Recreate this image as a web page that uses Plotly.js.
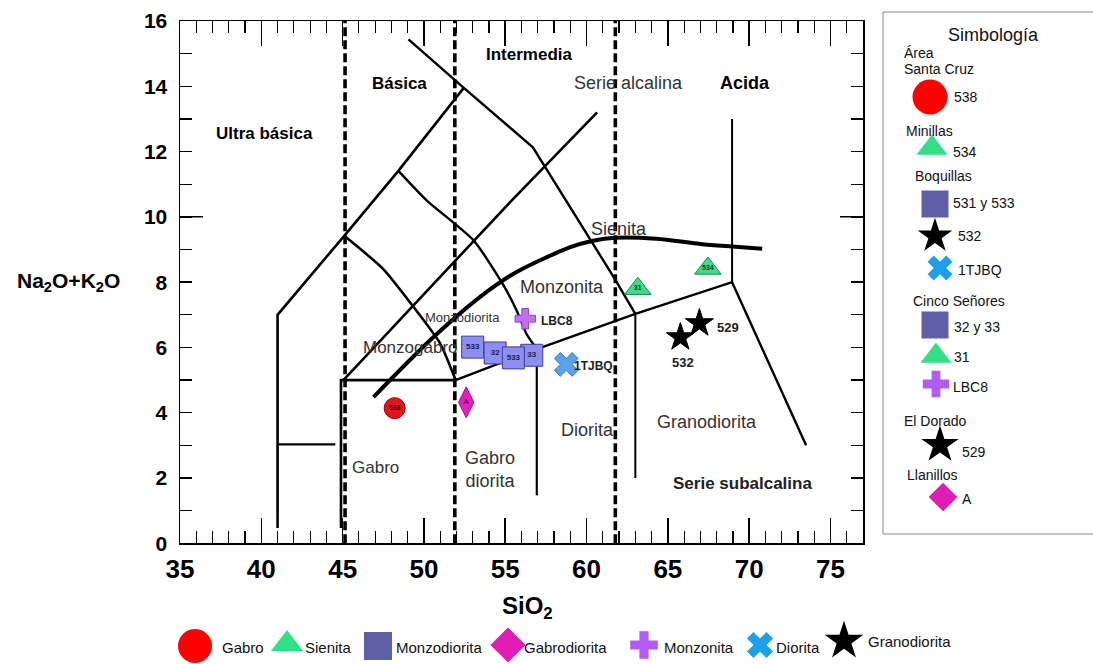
<!DOCTYPE html>
<html><head><meta charset="utf-8">
<script src="https://cdn.plot.ly/plotly-3.0.1.min.js"></script>
<style>html,body{margin:0;padding:0;background:#fff}#chart{width:1093px;height:664px}</style>
</head><body><div id="chart"></div>
<script>
// ---------------- DATA (SiO2 vs Na2O+K2O) ----------------
const gabroSi = [48.2],  gabroAlk = [4.14],  gabroLbl = ['538'];
const sienitaSi = [63.15, 67.46], sienitaAlk = [7.8, 8.42], sienitaLbl = ['31', '534'];
const monzodioritaSi = [53.0, 54.38, 56.63, 55.5], monzodioritaAlk = [6.01, 5.83, 5.76, 5.68], monzodioritaLbl = ['533', '32', '33', '533'];
const gabrodioritaSi = [52.6], gabrodioritaAlk = [4.32], gabrodioritaLbl = ['A'];
const monzonitaSi = [56.23], monzonitaAlk = [6.88], monzonitaLbl = ['LBC8'];
const dioritaSi = [58.75], dioritaAlk = [5.48], dioritaLbl = ['1TJBQ'];
const granodioritaSi = [65.77, 66.94], granodioritaAlk = [6.31, 6.74], granodioritaLbl = ['532', '529'];

const xTicks = [35, 40, 45, 50, 55, 60, 65, 70, 75];
const yTicks = [0, 2, 4, 6, 8, 10, 12, 14, 16];

// TAS field boundaries
const bOuterX = [41.0, 41.0, 45.1, 48.43, 52.45], bOuterY = [0.47, 7.0, 9.42, 11.41, 13.95];
const bTopX = [49.05, 52.45, 56.7, 61.8, 63.0], bTopY = [15.44, 13.95, 12.13, 8.05, 7.03];
const bInnerX = [45.1, 47.5, 49.36, 51.0, 51.95], bInnerY = [9.42, 8.4, 7.24, 6.12, 5.0];
const bApexX = [48.43, 50.18, 53.05, 54.9, 55.7, 56.3, 56.94], bApexY = [11.41, 10.5, 9.28, 7.9, 7.13, 6.42, 5.95];
const bMgX = [45.05, 55.3, 60.65], bMgY = [5.0, 10.45, 13.2];
const bGabroX = [44.9, 44.9, 51.95], bGabroY = [0.47, 5.0, 5.0];
const bLeftX = [41.0, 44.55], bLeftY = [3.03, 3.03];
const bLowerX = [51.95, 56.94, 63.0, 68.95, 73.5], bLowerY = [5.0, 5.95, 7.03, 8.0, 3.0];
const bV57X = [56.94, 56.94], bV57Y = [5.95, 1.47];
const bV63X = [63.0, 63.0], bV63Y = [7.03, 2.0];
const bV69X = [68.95, 68.95], bV69Y = [8.0, 13.0];
const alkCurveX = [46.9, 50.38, 53.46, 55.7, 59.0, 60.4, 61.77, 64.3, 67.0, 68.95, 70.8];
const alkCurveY = [4.48, 6.22, 7.55, 8.31, 9.07, 9.27, 9.36, 9.33, 9.17, 9.09, 9.02];
const silicaLimits = [45.15, 51.9, 61.77];

const rockTypes = ['Gabro', 'Sienita', 'Monzodiorita', 'Gabrodiorita', 'Monzonita', 'Diorita', 'Granodiorita'];

// ---------------- LAYOUT HELPERS ----------------
const W = 1093, H = 664;
const pL = 180, pR = 863, pT = 21, pB = 543.3;
const X0 = 35, X1 = 77, Y0 = 0, Y1 = 16;
const px = v => v / W, py = v => 1 - v / H;

const traces = [];
function line(xs, ys, w, extra) {
  traces.push(Object.assign({type: 'scatter', mode: 'lines', x: xs, y: ys,
    line: {color: '#000', width: w}, hoverinfo: 'skip', showlegend: false}, extra || {}));
}
// dashed silica limits
silicaLimits.forEach(v => {
  line([v, v], [Y0, Y1], 3.6, {line: {color: '#000', width: 3.6, dash: '9px,4px'}});
});
line(bOuterX, bOuterY, 2.6);
line(bTopX, bTopY, 2.4);
line(bInnerX, bInnerY, 2.6, {line: {color: '#000', width: 2.6, shape: 'spline', smoothing: 0.6}});
line(bApexX, bApexY, 2.4, {line: {color: '#000', width: 2.4, shape: 'spline', smoothing: 0.6}});
line(bMgX, bMgY, 2.6);
line(bGabroX, bGabroY, 2.6);
line(bLeftX, bLeftY, 2.2);
line(bLowerX, bLowerY, 2.4);
line(bV57X, bV57Y, 2.2);
line(bV63X, bV63Y, 2.0);
line(bV69X, bV69Y, 2.0);
line(alkCurveX, alkCurveY, 4, {line: {color: '#000', width: 4, shape: 'spline', smoothing: 0.8}});

// sample markers
function pts(xs, ys, lbl, symbol, size, color, lineColor, tcolor, tsize) {
  traces.push({type: 'scatter', mode: 'markers+text', x: xs, y: ys, text: lbl,
    textposition: 'middle center', textfont: {family: 'Liberation Sans, Arial', size: tsize, color: tcolor, weight: 'bold'},
    marker: {symbol: symbol, size: size, color: color, line: {color: lineColor, width: 1}},
    hoverinfo: 'skip', showlegend: false, cliponaxis: false});
}
function ptsNoText(xs, ys, symbol, size, color, lineColor) {
  traces.push({type: 'scatter', mode: 'markers', x: xs, y: ys,
    marker: {symbol: symbol, size: size, color: color, line: {color: lineColor, width: 1}},
    hoverinfo: 'skip', showlegend: false, cliponaxis: false});
}
pts(gabroSi, gabroAlk, gabroLbl, 'circle', 21, '#e3141b', '#9a0000', '#5a0000', 7);
pts(gabrodioritaSi, gabrodioritaAlk, gabrodioritaLbl, 'diamond-tall', 22, '#e020c0', '#a01090', '#700060', 8);
pts(monzodioritaSi, monzodioritaAlk, monzodioritaLbl, 'square', 22, '#8d8ef0', '#3c3c9c', '#1c1c50', 8);
pts(sienitaSi, sienitaAlk, sienitaLbl, 'triangle-up', 23, '#3fdb8a', '#1a8a50', '#0d4a28', 7);
ptsNoText(monzonitaSi, monzonitaAlk, 'cross', 17, '#c070f2', '#9040c0');
ptsNoText(dioritaSi, dioritaAlk, 'x', 21, '#5aa3ea', '#3575c5');
ptsNoText(granodioritaSi, granodioritaAlk, 'star', 21, '#000', '#000');

// ---------------- LEGENDS (pixel-positioned on overlay axes) ----------------
const legColors = {Gabro: '#ff0000', Sienita: '#33e08a', Monzodiorita: '#5f5fa8', Gabrodiorita: '#e01cb4',
  Monzonita: '#b35cf5', Diorita: '#1ba1ea', Granodiorita: '#000000'};
const legSymbols = {Gabro: 'circle', Sienita: 'triangle-up', Monzodiorita: 'square', Gabrodiorita: 'diamond',
  Monzonita: 'cross', Diorita: 'x', Granodiorita: 'star'};
function legMark(x, y, type, size) {
  traces.push({type: 'scatter', mode: 'markers', x: [x], y: [y], xaxis: 'x2', yaxis: 'y2',
    marker: {symbol: legSymbols[type], size: size, color: legColors[type], line: {width: 0}},
    hoverinfo: 'skip', showlegend: false, cliponaxis: false});
}
// bottom legend: [marker x, marker y, size, text left]
const botPos = {Gabro: [195, 646, 34, 220], Sienita: [287, 644, 28, 303], Monzodiorita: [378, 646, 28, 394],
  Gabrodiorita: [508, 645, 27, 522], Monzonita: [644, 645, 23, 662], Diorita: [760, 645, 23, 774], Granodiorita: [844, 641, 29, 866]};
// right legend markers
const rightMarks = [[930, 97, 'Gabro', 35], [932, 148, 'Sienita', 27], [935, 204, 'Monzodiorita', 27],
  [935, 236, 'Granodiorita', 26], [940, 268, 'Diorita', 22], [935, 325, 'Monzodiorita', 27],
  [936, 356, 'Sienita', 27], [936, 384, 'Monzonita', 22], [940, 445, 'Granodiorita', 28], [943, 497, 'Gabrodiorita', 22]];
rightMarks.forEach(m => legMark(m[0], m[1], m[2], m[3]));
rockTypes.forEach(r => { const p = botPos[r]; legMark(p[0], p[1], r, p[2]); });

const ann = [];
const legFont = {family: 'Liberation Sans, Arial, sans-serif', size: 14, color: '#111'};
function ptext(t, x, y, font, xanchor) {
  ann.push({text: t, x: px(x), y: py(y), xref: 'paper', yref: 'paper', showarrow: false,
    xanchor: xanchor || 'left', yanchor: 'middle', font: font || legFont});
}
ptext('Simbología', 993, 35, {family: 'Liberation Sans, Arial, sans-serif', size: 18, color: '#111'}, 'center');
const rightTexts = [['Área', 902, 53], ['Santa Cruz', 902, 69], ['538', 952, 97], ['Minillas', 904, 131],
  ['534', 951, 152], ['Boquillas', 913, 176], ['531 y 533', 951, 203], ['532', 956, 236], ['1TJBQ', 956, 270],
  ['Cinco Señores', 911, 301], ['32 y 33', 952, 327], ['31', 952, 357], ['LBC8', 951, 387],
  ['El Dorado', 902, 421], ['529', 960, 452], ['Llanillos', 905, 475], ['A', 960, 499]];
rightTexts.forEach(t => ptext(t[0], t[1], t[2]));
const botFont = {family: 'Liberation Sans Narrow, Arial Narrow, Liberation Sans, Arial', size: 15, color: '#111'};
rockTypes.forEach(r => { const p = botPos[r]; ptext(r, p[3], r === 'Granodiorita' ? 641 : 647, botFont); });

// axis titles
ptext('SiO<sub>2</sub>', 527, 607, {family: 'Liberation Sans Narrow, Arial Narrow, Liberation Sans, Arial', size: 24, color: '#000', weight: 'bold'}, 'center');
ptext('Na<sub>2</sub>O+K<sub>2</sub>O', 68, 282, {family: 'Liberation Sans, Arial', size: 21, color: '#000', weight: 'bold'}, 'center');

// field labels
function dtext(t, x, y, size, bold, color, xanchor) {
  ann.push({text: t, x: x, y: y, xref: 'x', yref: 'y', showarrow: false, xanchor: xanchor || 'center', yanchor: 'middle',
    font: {family: 'Liberation Sans, Arial, sans-serif', size: size, color: color || (bold ? '#000' : '#333'), weight: bold ? 'bold' : 'normal'}});
}
dtext('Ultra básica', 40.17, 12.55, 17, true);
dtext('Básica', 48.48, 14.08, 17, true);
dtext('Intermedia', 56.48, 14.96, 17, true);
dtext('Serie alcalina', 62.57, 14.1, 18, false);
dtext('Acida', 69.77, 14.1, 18, true);
dtext('Sienita', 62.0, 9.64, 18, false);
dtext('Monzonita', 58.5, 7.84, 18, false);
dtext('Monzodiorita', 52.4, 6.92, 13, false);
dtext('Monzogabro', 49.2, 6.0, 17, false);
dtext('Gabro', 47.0, 2.33, 17, false);
dtext('Gabro<br>diorita', 52.42, 2.27, 18, false, '#333', 'left');
dtext('Diorita', 60.05, 3.47, 18, false);
dtext('Granodiorita', 67.43, 3.71, 18, false);
dtext('Serie subalcalina', 69.58, 1.84, 17, true, '#222');

// sample name labels next to markers
const sampFont = {family: 'Liberation Sans, Arial', size: 12, color: '#222', weight: 'bold'};
ann.push({text: monzonitaLbl[0], x: monzonitaSi[0], y: monzonitaAlk[0], xshift: 14, yshift: -2, xanchor: 'left', showarrow: false, font: sampFont});
ann.push({text: dioritaLbl[0], x: dioritaSi[0], y: dioritaAlk[0], xshift: 6, yshift: -2, xanchor: 'left', showarrow: false, font: sampFont});
ann.push({text: granodioritaLbl[1], x: granodioritaSi[1], y: granodioritaAlk[1], xshift: 16, yshift: -4, xanchor: 'left', showarrow: false, font: Object.assign({}, sampFont, {size: 13})});
ann.push({text: granodioritaLbl[0], x: granodioritaSi[0], y: granodioritaAlk[0], xshift: 3, yshift: -25, xanchor: 'center', showarrow: false, font: Object.assign({}, sampFont, {size: 13})});

const shapes = [
  {type: 'rect', xref: 'paper', yref: 'paper', x0: px(883), x1: px(1100), y0: py(534), y1: py(12), line: {color: '#888', width: 1}},
  {type: 'line', xref: 'x', yref: 'y', x0: X0, x1: X0 + 23 / 16.25, y0: 10, y1: 10, line: {color: '#000', width: 1.5}},
  {type: 'line', xref: 'x', yref: 'y', x0: X1, x1: X1 - 23 / 16.25, y0: 10, y1: 10, line: {color: '#000', width: 1.5}}
];

const layout = {
  width: W, height: H, margin: {l: 0, r: 0, t: 0, b: 0}, paper_bgcolor: '#fff', plot_bgcolor: 'rgba(0,0,0,0)',
  showlegend: false, annotations: ann, shapes: shapes,
  xaxis: {domain: [px(pL), px(pR)], range: [X0, X1], tickvals: xTicks, ticks: 'inside', ticklen: 25, tickwidth: 1.5,
    tickcolor: '#000', showline: true, linecolor: '#000', linewidth: 1.5, mirror: 'ticks', showgrid: false, zeroline: false,
    minor: {dtick: 1, tick0: 35, ticklen: 12, tickwidth: 1.2, tickcolor: '#000', ticks: 'inside', showgrid: false},
    tickfont: {family: 'Liberation Sans Narrow, Arial Narrow, Liberation Sans, Arial', size: 26, color: '#000', weight: 'bold'},
    ticklabelstandoff: 2, fixedrange: true},
  yaxis: {domain: [py(pB), py(pT)], range: [Y0, Y1], tickvals: yTicks, ticks: 'inside', ticklen: 12, tickwidth: 1.5,
    tickcolor: '#000', showline: true, linecolor: '#000', linewidth: 1.5, mirror: 'ticks', showgrid: false, zeroline: false,
    minor: {dtick: 1, tick0: 0, ticklen: 12, tickwidth: 1.2, tickcolor: '#000', ticks: 'inside', showgrid: false},
    tickfont: {family: 'Liberation Sans, Arial', size: 21, color: '#000', weight: 'bold'}, ticklabelstandoff: 7, fixedrange: true},
  xaxis2: {domain: [0, 1], range: [0, W], anchor: 'y2', visible: false, fixedrange: true},
  yaxis2: {domain: [0, 1], range: [H, 0], anchor: 'x2', visible: false, fixedrange: true}
};

Plotly.newPlot('chart', traces, layout, {staticPlot: true, displayModeBar: false});
</script></body></html>
